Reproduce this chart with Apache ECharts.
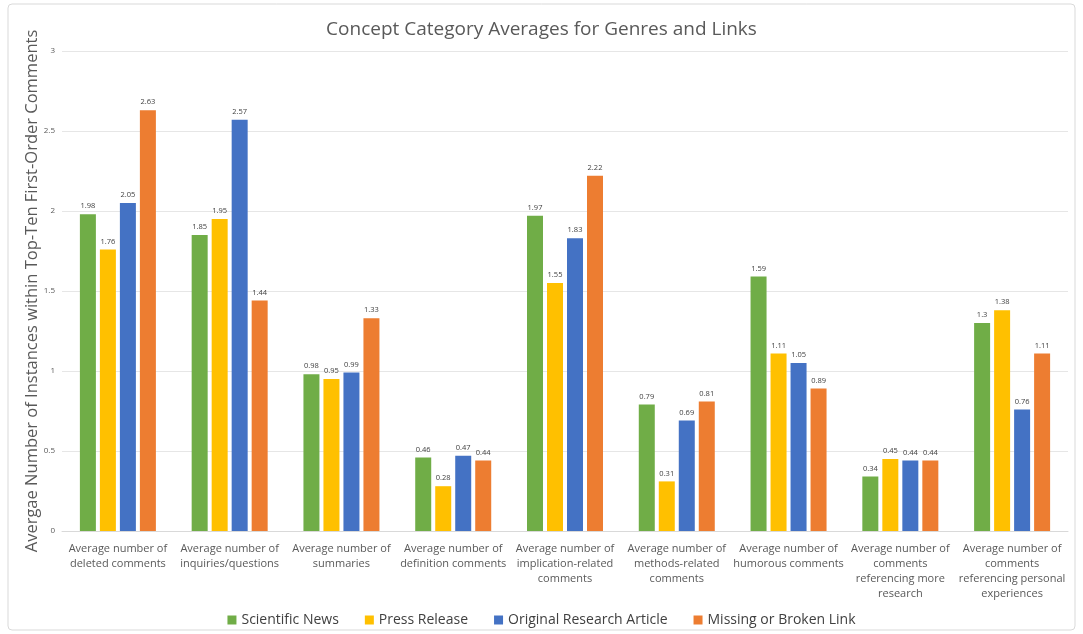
<!DOCTYPE html>
<html><head><meta charset="utf-8">
<script src="https://cdn.jsdelivr.net/npm/echarts@6/dist/echarts.min.js"></script>
<style>html,body{margin:0;padding:0;background:#fff}#c{width:1083px;height:634px}</style>
</head><body><div id="c"></div>
<script>
const categories = [
  "Average number of\ndeleted comments",
  "Average number of\ninquiries/questions",
  "Average number of\nsummaries",
  "Average number of\ndefinition comments",
  "Average number of\nimplication-related\ncomments",
  "Average number of\nmethods-related\ncomments",
  "Average number of\nhumorous comments",
  "Average number of\ncomments\nreferencing more\nresearch",
  "Average number of\ncomments\nreferencing personal\nexperiences"
];
const scientificNews = [1.98, 1.85, 0.98, 0.46, 1.97, 0.79, 1.59, 0.34, 1.3];
const pressRelease = [1.76, 1.95, 0.95, 0.28, 1.55, 0.31, 1.11, 0.45, 1.38];
const originalResearch = [2.05, 2.57, 0.99, 0.47, 1.83, 0.69, 1.05, 0.44, 0.76];
const missingLink = [2.63, 1.44, 1.33, 0.44, 2.22, 0.81, 0.89, 0.44, 1.11];
const seriesNames = ["Scientific News", "Press Release", "Original Research Article", "Missing or Broken Link"];
const colors = ["#70ad47", "#ffc000", "#4472c4", "#ed7d31"];
const data = [scientificNews, pressRelease, originalResearch, missingLink];

const chart = echarts.init(document.getElementById('c'));
chart.setOption({
  animation: false,
  textStyle: { fontFamily: 'Open Sans, Noto Sans, sans-serif' },
  graphic: [{ type: 'rect', shape: { x: 8, y: 4, width: 1067, height: 626, r: 4 }, style: { fill: 'none', stroke: '#d9d9d9', lineWidth: 1 }, silent: true }],
  title: { text: 'Concept Category Averages for Genres and Links', left: 'center', top: 15,
    textStyle: { fontSize: 19, fontWeight: 'normal', color: '#595959' } },
  legend: { bottom: 2, left: 'center', itemWidth: 9, itemHeight: 9, itemGap: 26, icon: 'rect',
    textStyle: { fontSize: 14, color: '#404040' }, data: seriesNames },
  grid: { left: 62, right: 15, top: 51, bottom: 103 },
  xAxis: { type: 'category', data: categories,
    axisLine: { lineStyle: { color: '#d9d9d9' } }, axisTick: { show: false },
    axisLabel: { interval: 0, fontSize: 11, color: '#595959', lineHeight: 15, margin: 10 } },
  yAxis: { type: 'value', min: 0, max: 3, interval: 0.5,
    name: 'Avergae Number of Instances within Top-Ten First-Order Comments',
    nameLocation: 'middle', nameGap: 21, nameMoveOverlap: false,
    nameTextStyle: { fontSize: 16.5, color: '#595959' },
    axisLabel: { fontSize: 8, color: '#595959', margin: 7 },
    splitLine: { lineStyle: { color: '#e6e6e6' } }, axisLine: { show: false }, axisTick: { show: false } },
  series: data.map((d, i) => ({
    name: seriesNames[i], type: 'bar', data: d, barWidth: 16, barGap: '25%',
    itemStyle: { color: colors[i] },
    label: { show: true, position: 'top', fontSize: 7.5, color: '#404040', distance: 4 }
  }))
});
</script></body></html>
